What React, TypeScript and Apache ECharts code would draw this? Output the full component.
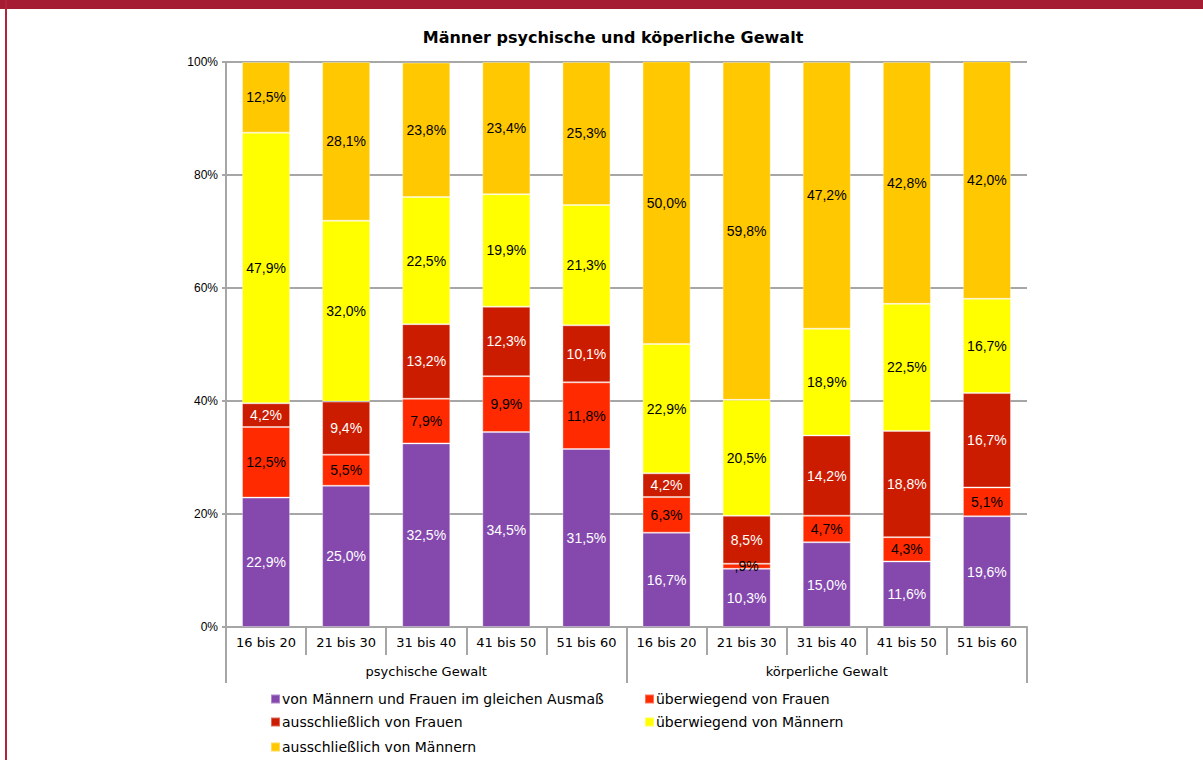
import React, { useEffect, useRef } from "react";
import * as echarts from "echarts";

const categories = [
  "16 bis 20", "21 bis 30", "31 bis 40", "41 bis 50", "51 bis 60",
  "16 bis 20", "21 bis 30", "31 bis 40", "41 bis 50", "51 bis 60",
];
const groups = ["psychische Gewalt", "körperliche Gewalt"];
const yTicks = [0, 20, 40, 60, 80, 100];

const seriesNames = [
  "von Männern und Frauen im gleichen Ausmaß",
  "überwiegend von Frauen",
  "ausschließlich von Frauen",
  "überwiegend von Männern",
  "ausschließlich von Männern",
];
const gleich = [22.9, 25.0, 32.5, 34.5, 31.5, 16.7, 10.3, 15.0, 11.6, 19.6];
const ueberwFrauen = [12.5, 5.5, 7.9, 9.9, 11.8, 6.3, 0.9, 4.7, 4.3, 5.1];
const ausschlFrauen = [4.2, 9.4, 13.2, 12.3, 10.1, 4.2, 8.5, 14.2, 18.8, 16.7];
const ueberwMaenner = [47.9, 32.0, 22.5, 19.9, 21.3, 22.9, 20.5, 18.9, 22.5, 16.7];
const ausschlMaenner = [12.5, 28.1, 23.8, 23.4, 25.3, 50.0, 59.8, 47.2, 42.8, 42.0];

const seriesData = [gleich, ueberwFrauen, ausschlFrauen, ueberwMaenner, ausschlMaenner];
const colors = ["#8549AE", "#FF2A00", "#CC1C00", "#FFFF00", "#FFC800"];
const labelColors = ["#ffffff", "#000000", "#ffffff", "#000000", "#000000"];

const FONT = "'Liberation Sans', Arial, sans-serif";
const WIDE = "'DejaVu Sans', sans-serif";

// legend placement: [left, top] per series
const legendPos = [
  [270, 692],
  [644, 692],
  [270, 715],
  [644, 715],
  [270, 740],
];

function fmt(v: number): string {
  const s = v.toFixed(1).replace(".", ",");
  return (s.startsWith("0,") ? s.slice(1) : s) + "%";
}

export default function App() {
  const ref = useRef<HTMLDivElement>(null);
  useEffect(() => {
    if (!ref.current) return;
    const chart = echarts.init(ref.current, null, { renderer: "svg" });
    const option: any = {
      animation: false,
      backgroundColor: "#ffffff",
      textStyle: { fontFamily: FONT },
      title: {
        text: "Männer psychische und köperliche Gewalt",
        left: 608,
        textAlign: "center",
        top: 24,
        textStyle: { fontFamily: WIDE, fontSize: 16, fontWeight: "bold", color: "#000" },
      },
      graphic: [
        { type: "rect", left: 0, top: 0, shape: { width: 1203, height: 9 }, style: { fill: "#A51D33" } },
        { type: "rect", left: 5, top: 0, shape: { width: 2, height: 760 }, style: { fill: "#B0253A" } },
      ],
      legend: seriesNames.map((n, i) => ({
        data: [n],
        left: legendPos[i][0],
        top: legendPos[i][1],
        padding: 0,
        itemWidth: 9,
        itemHeight: 9,
        icon: "rect",
        textStyle: { fontFamily: WIDE, fontSize: 14, color: "#000", padding: [0, 0, 0, -3] },
      })),
      grid: { left: 226, right: 176, top: 62, bottom: 133, containLabel: false },
      xAxis: [
        {
          type: "category",
          data: categories,
          position: "bottom",
          axisLine: { show: true, lineStyle: { color: "#a6a6a6", width: 2 } },
          axisTick: { show: true, length: 28, lineStyle: { color: "#a6a6a6", width: 2 } },
          axisLabel: { fontFamily: WIDE, fontSize: 13, color: "#000", margin: 9 },
        },
        {
          type: "category",
          data: groups,
          position: "bottom",
          offset: 28,
          axisLine: { show: false },
          axisTick: { show: true, length: 28, lineStyle: { color: "#a6a6a6", width: 2 } },
          axisLabel: { fontFamily: WIDE, fontSize: 13, color: "#000", margin: 10 },
        },
      ],
      yAxis: {
        type: "value",
        min: 0,
        max: 100,
        interval: 20,
        axisLine: { show: true, lineStyle: { color: "#a6a6a6", width: 2 } },
        axisTick: { show: true, length: 4, lineStyle: { color: "#a6a6a6", width: 2 } },
        axisLabel: {
          fontFamily: FONT,
          fontSize: 12,
          color: "#000",
          margin: 8,
          formatter: (v: number) => (yTicks.includes(v) ? v + "%" : ""),
        },
        splitLine: { show: true, lineStyle: { color: "#a6a6a6", width: 2 } },
      },
      series: seriesNames.map((name, i) => ({
        name,
        type: "bar",
        stack: "total",
        xAxisIndex: 0,
        barWidth: "60%",
        data: seriesData[i],
        itemStyle: { color: colors[i], borderColor: "rgba(255,255,255,0.35)", borderWidth: 1 },
        label: {
          show: true,
          position: "inside",
          fontFamily: FONT,
          fontSize: 14,
          color: labelColors[i],
          formatter: (p: any) => fmt(p.value),
        },
      })),
    };
    chart.setOption(option);
    return () => chart.dispose();
  }, []);
  return (
    <div
      ref={ref}
      style={{ position: "fixed", left: 0, top: 0, width: 1203, height: 760 }}
    />
  );
}
